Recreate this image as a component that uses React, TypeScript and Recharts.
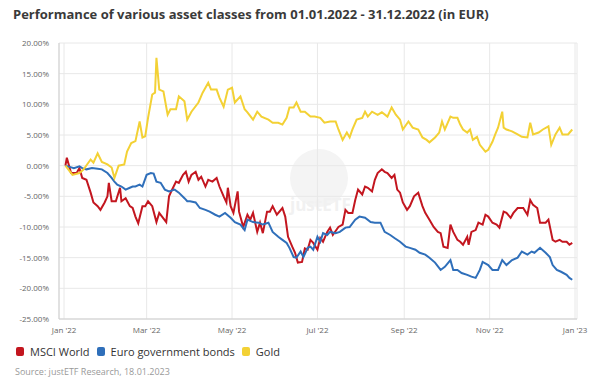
import React from "react";
import { LineChart, Line, XAxis, YAxis, CartesianGrid } from "recharts";

// x = day of year 2022 (0 = 1 Jan), y = performance in %
const msciWorld: [number, number][] = [
    [1, 0], [2, 1.3], [5, -1.2], [9, -1.2], [11, -0.4], [13, -2.0], [16, -2.3], [19, -4.4], [21, -6.0],
    [24, -6.6], [26, -7.2], [29, -6.0], [31, -5.0], [32, -2.8], [34, -5.8], [37, -5.8], [40, -3.6],
    [41, -5.8], [44, -5.3], [47, -6.6], [49, -6.9], [51, -8.3], [53, -9.4], [56, -6.6], [58, -6.6],
    [60, -5.8], [63, -6.6], [66, -9.2], [68, -7.7], [70, -8.3], [73, -9.2], [75, -5.0], [77, -4.0],
    [80, -2.6], [82, -2.8], [85, -1.5], [87, -1.0], [89, -2.6], [91, -1.5], [94, -1.0], [96, -2.3],
    [98, -1.8], [101, -3.4], [103, -2.3], [106, -2.6], [109, -2.0], [111, -3.4], [114, -5.0], [116, -6.0],
    [117, -3.6], [119, -6.6], [121, -7.7], [124, -4.2], [125, -7.5], [128, -10.0], [131, -8.0], [133, -8.8],
    [135, -7.7], [138, -10.8], [140, -9.3], [142, -11.0], [145, -7.5], [147, -7.5], [149, -6.6], [152, -8.0],
    [156, -6.9], [158, -8.3], [160, -11.6], [163, -13.2], [165, -14.2], [167, -15.8], [170, -15.7],
    [172, -13.5], [174, -13.7], [176, -12.1], [178, -12.6], [181, -13.7], [183, -11.8], [185, -12.4],
    [188, -10.8], [190, -10.1], [192, -11.3], [196, -10.0], [199, -9.6], [201, -7.2], [203, -7.7],
    [206, -7.7], [208, -5.6], [210, -3.9], [213, -4.7], [215, -3.4], [217, -3.6], [220, -4.2], [222, -2.3],
    [224, -1.2], [227, -0.6], [229, -1.0], [231, -1.2], [234, -2.0], [236, -1.5], [238, -3.9], [240, -4.4],
    [242, -6.0], [245, -7.2], [247, -6.6], [250, -5.0], [253, -4.4], [256, -6.6], [258, -7.7], [261, -8.8],
    [264, -10.0], [267, -10.8], [269, -11.0], [271, -13.2], [274, -13.4], [276, -9.6], [278, -10.8],
    [281, -12.1], [283, -12.4], [285, -12.9], [288, -11.6], [289, -12.9], [291, -10.8], [294, -10.5],
    [296, -9.3], [299, -9.6], [301, -8.0], [303, -8.3], [306, -9.3], [309, -9.6], [311, -10.1], [314, -7.5],
    [316, -7.7], [319, -8.5], [321, -7.7], [324, -6.9], [328, -6.9], [331, -8.0], [333, -5.6], [335, -6.4],
    [338, -6.9], [340, -9.3], [344, -9.3], [346, -8.8], [349, -12.1], [351, -12.4], [354, -12.1],
    [356, -12.4], [359, -12.4], [361, -12.9], [363, -12.6],
];

const euroBonds: [number, number][] = [
    [1, 0], [4, -0.2], [7, -0.4], [11, -0.1], [13, -0.4], [16, -0.6], [20, -0.4], [24, -0.5], [27, -0.6],
    [31, -1.2], [34, -2.0], [36, -2.6], [38, -3.1], [41, -3.4], [44, -3.9], [47, -3.6], [49, -3.4],
    [51, -3.4], [54, -3.1], [56, -3.4], [59, -1.5], [62, -1.2], [64, -1.3], [66, -2.6], [69, -2.8],
    [72, -3.9], [75, -4.2], [79, -3.9], [82, -4.4], [86, -5.3], [88, -5.8], [90, -5.8], [94, -6.0],
    [97, -6.9], [101, -7.2], [104, -7.5], [108, -8.0], [111, -8.3], [115, -7.7], [119, -8.5], [122, -9.2],
    [126, -9.6], [129, -10.5], [131, -8.8], [135, -9.2], [139, -9.3], [142, -9.6], [146, -9.3],
    [149, -10.8], [153, -11.6], [156, -12.1], [159, -12.6], [161, -13.4], [164, -14.9], [166, -15.0],
    [169, -14.0], [171, -14.9], [174, -13.4], [176, -13.2], [178, -13.7], [181, -11.6], [183, -12.4],
    [185, -11.0], [188, -11.3], [190, -10.8], [194, -11.0], [197, -10.8], [201, -10.1], [204, -10.0],
    [208, -8.8], [211, -8.3], [215, -8.5], [219, -9.2], [222, -9.3], [226, -9.3], [229, -10.8],
    [233, -11.3], [236, -11.8], [240, -12.4], [244, -13.2], [247, -13.4], [251, -13.7], [254, -14.2],
    [258, -14.5], [261, -15.0], [265, -15.8], [269, -17.0], [272, -16.5], [276, -15.4], [278, -17.0],
    [281, -17.0], [284, -17.5], [288, -17.8], [291, -18.1], [294, -18.3], [297, -17.0], [299, -15.7],
    [303, -16.2], [306, -17.0], [310, -17.0], [313, -15.4], [316, -16.2], [320, -15.4], [324, -15.0],
    [327, -14.0], [331, -14.5], [334, -14.0], [336, -14.2], [340, -13.4], [344, -14.2], [347, -14.9],
    [349, -16.2], [352, -17.0], [355, -17.3], [359, -17.8], [361, -18.3], [363, -18.6],
];

const gold: [number, number][] = [
    [1, 0], [6, -1.5], [11, -1.2], [14, -0.6], [19, 1.0], [21, 0.5], [24, 2.0], [27, 0.6], [31, 0.2],
    [34, -0.3], [36, -2.0], [39, 0], [43, 0.2], [45, 2.3], [48, 3.7], [51, 4.0], [54, 7.2], [56, 4.6],
    [58, 4.8], [60, 7.8], [63, 11.6], [65, 11.9], [66, 17.6], [68, 12.4], [71, 12.1], [74, 8.3], [76, 9.2],
    [80, 9.2], [82, 11.3], [86, 10.5], [88, 7.5], [91, 8.8], [96, 10.3], [99, 11.9], [103, 13.5],
    [105, 12.4], [109, 12.4], [111, 11.1], [114, 9.6], [117, 12.4], [120, 12.7], [122, 10.3], [126, 11.3],
    [129, 9.2], [131, 8.7], [135, 7.5], [138, 8.8], [141, 8.0], [146, 7.5], [149, 7.0], [153, 7.0],
    [156, 6.7], [159, 7.8], [161, 9.5], [164, 9.5], [166, 10.3], [169, 8.8], [172, 8.8], [176, 8.0],
    [179, 8.0], [183, 7.8], [186, 7.0], [190, 7.2], [194, 7.2], [196, 5.9], [199, 4.2], [202, 5.4],
    [204, 4.6], [206, 5.9], [209, 7.5], [213, 7.8], [215, 8.8], [217, 8.0], [220, 8.8], [224, 8.3],
    [227, 8.7], [231, 8.0], [234, 9.5], [237, 8.3], [240, 7.5], [242, 5.9], [246, 7.2], [249, 6.2],
    [253, 5.9], [256, 4.6], [259, 4.2], [261, 3.8], [265, 4.6], [268, 5.4], [270, 7.2], [272, 5.9],
    [276, 8.0], [278, 7.8], [281, 7.8], [283, 6.7], [285, 5.9], [288, 5.4], [290, 5.9], [292, 4.2],
    [295, 4.7], [297, 3.4], [301, 2.3], [303, 2.6], [306, 3.9], [308, 5.1], [310, 6.2], [313, 8.8],
    [314, 6.2], [316, 5.9], [320, 5.6], [324, 5.1], [327, 4.7], [331, 4.6], [333, 7.0], [335, 5.1],
    [339, 5.4], [342, 5.9], [346, 6.4], [348, 3.4], [351, 5.1], [354, 6.2], [356, 5.1], [360, 5.1],
    [363, 5.9],
];

const xTickDays = [0, 59, 120, 181, 243, 304, 365];
const xTickLabels = ["Jan '22", "Mar '22", "May '22", "Jul '22", "Sep '22", "Nov '22", "Jan '23"];
const yTicks = [-25, -20, -15, -10, -5, 0, 5, 10, 15, 20];

const series = [
    { name: "MSCI World", color: "#c3161f", points: msciWorld },
    { name: "Euro government bonds", color: "#2f6fba", points: euroBonds },
    { name: "Gold", color: "#f3d135", points: gold },
];

const FONT = "'Open Sans', sans-serif";

const toRows = (pts: [number, number][]) => pts.map(([day, value]) => ({ day, value }));

export default function App() {
    return (
        <div style={{ position: "absolute", left: 0, top: 0, width: 600, height: 383, background: "#fff", fontFamily: FONT }}>
            <div style={{ position: "absolute", left: 13, top: 5, fontSize: 13, fontWeight: 700, color: "#3a3a3a", whiteSpace: "nowrap" }}>
                Performance of various asset classes from 01.01.2022 - 31.12.2022 (in EUR)
            </div>

            {/* faint watermark behind the plot */}
            <div style={{ position: "absolute", left: 290, top: 149, width: 58, height: 58, borderRadius: "50%", background: "#f4f4f4" }} />
            <div style={{ position: "absolute", left: 290, top: 193, fontSize: 17, color: "#f1f1f1", fontWeight: 700 }}>justETF</div>

            <div style={{ position: "absolute", left: 0, top: 0 }}>
                <LineChart width={600} height={383} margin={{ top: 43, right: 23, left: 0, bottom: 0 }}>
                    <CartesianGrid stroke="#e8e8e8" strokeWidth={1} />
                    <XAxis
                        dataKey="day"
                        type="number"
                        domain={[-3.6, 366.4]}
                        ticks={xTickDays}
                        tickFormatter={(d: number) => xTickLabels[xTickDays.indexOf(d)] ?? ""}
                        height={64}
                        allowDataOverflow
                        axisLine={{ stroke: "#cfcfcf" }}
                        tickLine={false}
                        tickMargin={2}
                        tick={{ fill: "#666", fontSize: 8, fontFamily: FONT }}
                    />
                    <YAxis
                        type="number"
                        domain={[-25, 20]}
                        ticks={yTicks}
                        width={59}
                        allowDataOverflow
                        axisLine={{ stroke: "#cfcfcf" }}
                        tickLine={false}
                        tickMargin={4}
                        tickFormatter={(v: number) => `${v.toFixed(2)}%`}
                        tick={{ fill: "#666", fontSize: 8, fontFamily: FONT }}
                    />
                    {series.map((s) => (
                        <Line
                            key={s.name}
                            data={toRows(s.points)}
                            dataKey="value"
                            type="linear"
                            stroke={s.color}
                            strokeWidth={2}
                            dot={false}
                            isAnimationActive={false}
                        />
                    ))}
                </LineChart>
            </div>

            {/* Legend */}
            <div style={{ position: "absolute", left: 16, top: 344, display: "flex", alignItems: "center", fontSize: 11, color: "#333" }}>
                {series.map((s) => (
                    <div key={s.name} style={{ display: "flex", alignItems: "center", marginRight: 7 }}>
                        <span style={{ width: 8, height: 9, borderRadius: 2, background: s.color, marginRight: 6, display: "inline-block" }} />
                        <span>{s.name}</span>
                    </div>
                ))}
            </div>

            <div style={{ position: "absolute", left: 15, top: 365, fontSize: 9, color: "#999" }}>
                Source: justETF Research, 18.01.2023
            </div>
        </div>
    );
}
